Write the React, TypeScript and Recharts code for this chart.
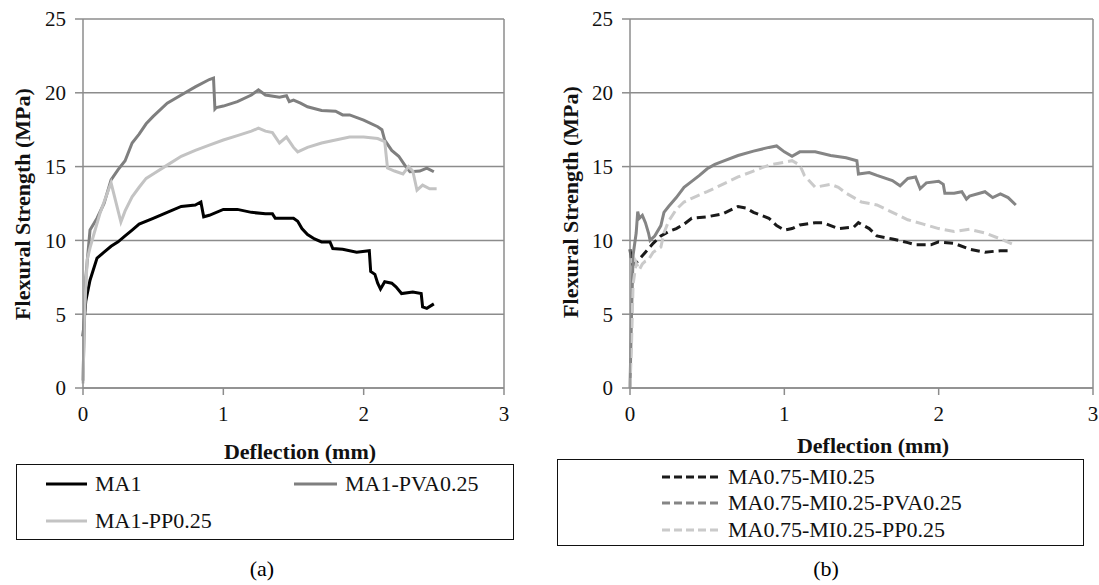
import { LineChart, Line, XAxis, YAxis, CartesianGrid, ReferenceLine } from "recharts";

// deflection (mm), flexural strength (MPa)
const ma1: [number, number][] = [
  [0, 3.5], [0.01, 4.8], [0.02, 5.9], [0.05, 7.3], [0.1, 8.8], [0.15, 9.2], [0.2, 9.6], [0.25, 9.9],
  [0.3, 10.3], [0.35, 10.7], [0.4, 11.1], [0.5, 11.5], [0.6, 11.9], [0.7, 12.3], [0.8, 12.4],
  [0.84, 12.6], [0.86, 11.6], [0.9, 11.7], [1.0, 12.1], [1.1, 12.1], [1.2, 11.9], [1.3, 11.8],
  [1.35, 11.8], [1.37, 11.5], [1.5, 11.5], [1.53, 11.3], [1.56, 10.8], [1.6, 10.4], [1.65, 10.1],
  [1.7, 9.9], [1.76, 9.9], [1.78, 9.45], [1.85, 9.4], [1.95, 9.2], [2.04, 9.3], [2.05, 7.9],
  [2.08, 7.7], [2.1, 7.1], [2.12, 6.7], [2.15, 7.2], [2.2, 7.1], [2.23, 6.85], [2.27, 6.4],
  [2.35, 6.5], [2.41, 6.4], [2.42, 5.5], [2.45, 5.4], [2.5, 5.7],
];
const ma1Pva: [number, number][] = [
  [0, 0.5], [0.01, 4.5], [0.02, 7.5], [0.05, 10.7], [0.1, 11.5], [0.15, 12.5], [0.2, 14.1],
  [0.25, 14.8], [0.3, 15.4], [0.35, 16.6], [0.4, 17.2], [0.45, 17.9], [0.5, 18.4], [0.6, 19.3],
  [0.7, 19.85], [0.8, 20.4], [0.9, 20.9], [0.93, 21.0], [0.94, 18.9], [0.95, 19.0], [1.0, 19.1],
  [1.1, 19.4], [1.2, 19.85], [1.25, 20.2], [1.3, 19.85], [1.4, 19.7], [1.45, 19.8], [1.47, 19.4],
  [1.5, 19.5], [1.55, 19.3], [1.6, 19.05], [1.7, 18.8], [1.8, 18.75], [1.85, 18.5], [1.9, 18.5],
  [2.0, 18.15], [2.1, 17.7], [2.13, 17.5], [2.15, 16.8], [2.2, 16.1], [2.25, 15.7], [2.3, 15.0],
  [2.33, 14.65], [2.4, 14.7], [2.45, 14.9], [2.5, 14.65],
];
const ma1Pp: [number, number][] = [
  [0, 0.3], [0.01, 5.0], [0.03, 8.7], [0.05, 9.5], [0.08, 10.5], [0.12, 11.8], [0.15, 12.6],
  [0.2, 13.9], [0.27, 11.25], [0.3, 12.0], [0.35, 12.95], [0.4, 13.6], [0.45, 14.2], [0.5, 14.5],
  [0.6, 15.1], [0.7, 15.7], [0.8, 16.1], [0.9, 16.45], [1.0, 16.8], [1.1, 17.1], [1.2, 17.4],
  [1.25, 17.6], [1.3, 17.4], [1.35, 17.3], [1.4, 16.6], [1.45, 17.0], [1.5, 16.3], [1.53, 16.0],
  [1.6, 16.3], [1.7, 16.6], [1.8, 16.8], [1.9, 17.0], [2.0, 17.0], [2.1, 16.9], [2.15, 16.7],
  [2.17, 14.9], [2.22, 14.7], [2.28, 14.5], [2.32, 15.0], [2.35, 14.7], [2.38, 13.4],
  [2.42, 13.75], [2.47, 13.5], [2.52, 13.5],
];

// panel (b)
const maMi: [number, number][] = [
  [0, 9.4], [0.01, 8.6], [0.02, 8.3], [0.05, 8.6], [0.1, 9.2], [0.15, 9.8], [0.2, 10.3],
  [0.25, 10.6], [0.3, 10.8], [0.35, 11.1], [0.4, 11.5], [0.5, 11.6], [0.6, 11.8], [0.7, 12.3],
  [0.75, 12.2], [0.8, 11.9], [0.9, 11.5], [0.95, 11.0], [1.0, 10.7], [1.05, 10.8], [1.1, 11.05],
  [1.2, 11.2], [1.25, 11.2], [1.3, 11.0], [1.35, 10.8], [1.45, 10.9], [1.48, 11.2], [1.55, 10.8],
  [1.6, 10.3], [1.7, 10.1], [1.8, 9.85], [1.85, 9.7], [1.95, 9.7], [2.0, 9.9], [2.1, 9.8],
  [2.2, 9.4], [2.3, 9.2], [2.4, 9.3], [2.45, 9.3],
];
const maMiPva: [number, number][] = [
  [0, 0], [0.01, 5.0], [0.02, 9.0], [0.04, 10.5], [0.05, 11.95], [0.06, 11.5], [0.08, 11.7],
  [0.1, 11.2], [0.12, 10.5], [0.13, 10.0], [0.16, 10.3], [0.2, 11.0], [0.22, 11.9], [0.25, 12.3],
  [0.3, 12.9], [0.35, 13.6], [0.4, 14.0], [0.45, 14.4], [0.5, 14.85], [0.55, 15.15], [0.6, 15.35],
  [0.7, 15.75], [0.8, 16.05], [0.9, 16.3], [0.95, 16.4], [1.0, 16.0], [1.05, 15.7], [1.1, 16.0],
  [1.2, 16.0], [1.3, 15.75], [1.4, 15.6], [1.47, 15.4], [1.48, 14.5], [1.55, 14.6], [1.6, 14.4],
  [1.7, 14.05], [1.75, 13.7], [1.8, 14.2], [1.85, 14.3], [1.88, 13.5], [1.92, 13.9], [2.0, 14.0],
  [2.03, 13.8], [2.04, 13.2], [2.1, 13.2], [2.15, 13.3], [2.18, 12.8], [2.2, 13.0], [2.3, 13.3],
  [2.35, 12.9], [2.4, 13.15], [2.45, 12.9], [2.5, 12.4],
];
const maMiPp: [number, number][] = [
  [0, 0], [0.01, 3.0], [0.02, 7.0], [0.04, 8.5], [0.06, 8.0], [0.08, 8.4], [0.1, 8.6],
  [0.12, 8.7], [0.15, 9.2], [0.2, 9.55], [0.22, 10.5], [0.25, 11.3], [0.3, 12.1], [0.35, 12.6],
  [0.4, 12.85], [0.5, 13.3], [0.6, 13.8], [0.7, 14.3], [0.8, 14.7], [0.9, 15.1], [1.0, 15.3],
  [1.05, 15.4], [1.1, 15.1], [1.13, 14.4], [1.2, 13.6], [1.3, 13.8], [1.35, 13.6], [1.4, 13.2],
  [1.5, 12.6], [1.6, 12.4], [1.7, 11.9], [1.8, 11.4], [1.9, 11.1], [2.0, 10.8], [2.1, 10.6],
  [2.2, 10.75], [2.3, 10.5], [2.4, 10.1], [2.5, 9.65],
];

const xTicks = [0, 1, 2, 3];
const yTicks = [0, 5, 10, 15, 20, 25];

const toPoints = (pts: [number, number][]) => pts.map(([x, y]) => ({ x, y }));

const FONT = '"Liberation Serif", Tinos, "Noto Serif", "DejaVu Serif", FreeSerif, Times, serif';
const GRID = "#8c8c8c";

type Series = { name: string; pts: [number, number][]; color: string; dash?: string; legendDash?: string };

const seriesA: Series[] = [
  { name: "MA1", pts: ma1, color: "#000000" },
  { name: "MA1-PVA0.25", pts: ma1Pva, color: "#7f7f7f" },
  { name: "MA1-PP0.25", pts: ma1Pp, color: "#c3c3c3" },
];

const seriesB: Series[] = [
  { name: "MA0.75-MI0.25", pts: maMi, color: "#1a1a1a", dash: "9 5", legendDash: "8 4" },
  { name: "MA0.75-MI0.25-PVA0.25", pts: maMiPva, color: "#858585", legendDash: "8 4" },
  { name: "MA0.75-MI0.25-PP0.25", pts: maMiPp, color: "#cacaca", dash: "10 5", legendDash: "8 4" },
];

function Panel({ series, width, yAxisWidth, right }: { series: Series[]; width: number; yAxisWidth: number; right: number }) {
  const tick = { fill: "#111", fontSize: 21, fontFamily: FONT };
  return (
    <LineChart width={width} height={440} margin={{ top: 19, right, left: 0, bottom: 0 }} style={{ fontFamily: FONT }}>
      <CartesianGrid vertical={false} stroke={GRID} strokeWidth={1.5} />
      <XAxis
        type="number"
        dataKey="x"
        domain={[0, 3]}
        ticks={xTicks}
        height={52}
        tick={tick}
        tickSize={7}
        tickMargin={11}
        stroke={GRID}
        strokeWidth={1.5}
        allowDuplicatedCategory={false}
      />
      <YAxis
        type="number"
        dataKey="y"
        domain={[0, 25]}
        ticks={yTicks}
        width={yAxisWidth}
        tick={tick}
        tickSize={8}
        tickMargin={9}
        stroke={GRID}
        strokeWidth={1.5}
      />
      <ReferenceLine x={3} stroke={GRID} strokeWidth={1.5} />
      {series.map((s) => (
        <Line
          key={s.name}
          data={toPoints(s.pts)}
          dataKey="y"
          type="linear"
          stroke={s.color}
          strokeWidth={3}
          strokeDasharray={s.dash}
          dot={false}
          isAnimationActive={false}
        />
      ))}
    </LineChart>
  );
}

function LegendItem({ s, x, y, len }: { s: Series; x: number; y: number; len: number }) {
  return (
    <div style={{ position: "absolute", left: x, top: y - 13, height: 26, display: "flex", alignItems: "center", whiteSpace: "nowrap" }}>
      <svg width={len} height={6} style={{ marginRight: 8 }}>
        <line x1={0} y1={3} x2={len} y2={3} stroke={s.color} strokeWidth={3} strokeDasharray={s.legendDash} />
      </svg>
      <span style={{ fontSize: 22, color: "#111" }}>{s.name}</span>
    </div>
  );
}

const abs = (l: number, t: number) => ({ position: "absolute" as const, left: l, top: t });

export default function App() {
  return (
    <div style={{ position: "absolute", left: 0, top: 0, width: 1099, height: 585, background: "#fff", fontFamily: FONT, overflow: "hidden" }}>
      <div style={abs(0, 0)}>
        <Panel series={seriesA} width={540} yAxisWidth={83} right={36} />
      </div>
      <div style={abs(560, 0)}>
        <Panel series={seriesB} width={539} yAxisWidth={70} right={6} />
      </div>

      {/* axis titles */}
      {[{ cx: 23, cy: 204 }, { cx: 571, cy: 202 }].map((p, i) => (
        <div
          key={i}
          style={{ ...abs(p.cx - 150, p.cy - 13), width: 300, height: 26, lineHeight: "26px", textAlign: "center", fontWeight: "bold", fontSize: 22, transform: "rotate(-90deg)", color: "#111" }}
        >
          Flexural Strength (MPa)
        </div>
      ))}
      {[{ cx: 300, cy: 452 }, { cx: 873, cy: 446 }].map((p, i) => (
        <div key={i} style={{ ...abs(p.cx - 120, p.cy - 13), width: 240, height: 26, lineHeight: "26px", textAlign: "center", fontWeight: "bold", fontSize: 22, color: "#111" }}>
          Deflection (mm)
        </div>
      ))}

      {/* legend (a) */}
      <div style={{ ...abs(16, 464), width: 496, height: 74, border: "1.5px solid #111" }} />
      <LegendItem s={seriesA[0]} x={46} y={484} len={41} />
      <LegendItem s={seriesA[1]} x={294} y={484} len={43} />
      <LegendItem s={seriesA[2]} x={46} y={521} len={41} />

      {/* legend (b) */}
      <div style={{ ...abs(557, 459), width: 525, height: 85, border: "1.5px solid #111" }} />
      <LegendItem s={seriesB[0]} x={662} y={477} len={58} />
      <LegendItem s={seriesB[1]} x={662} y={503} len={58} />
      <LegendItem s={seriesB[2]} x={662} y={530} len={58} />

      <div style={{ ...abs(242, 556), width: 40, textAlign: "center", fontSize: 22 }}>(a)</div>
      <div style={{ ...abs(806, 556), width: 40, textAlign: "center", fontSize: 22 }}>(b)</div>
    </div>
  );
}
